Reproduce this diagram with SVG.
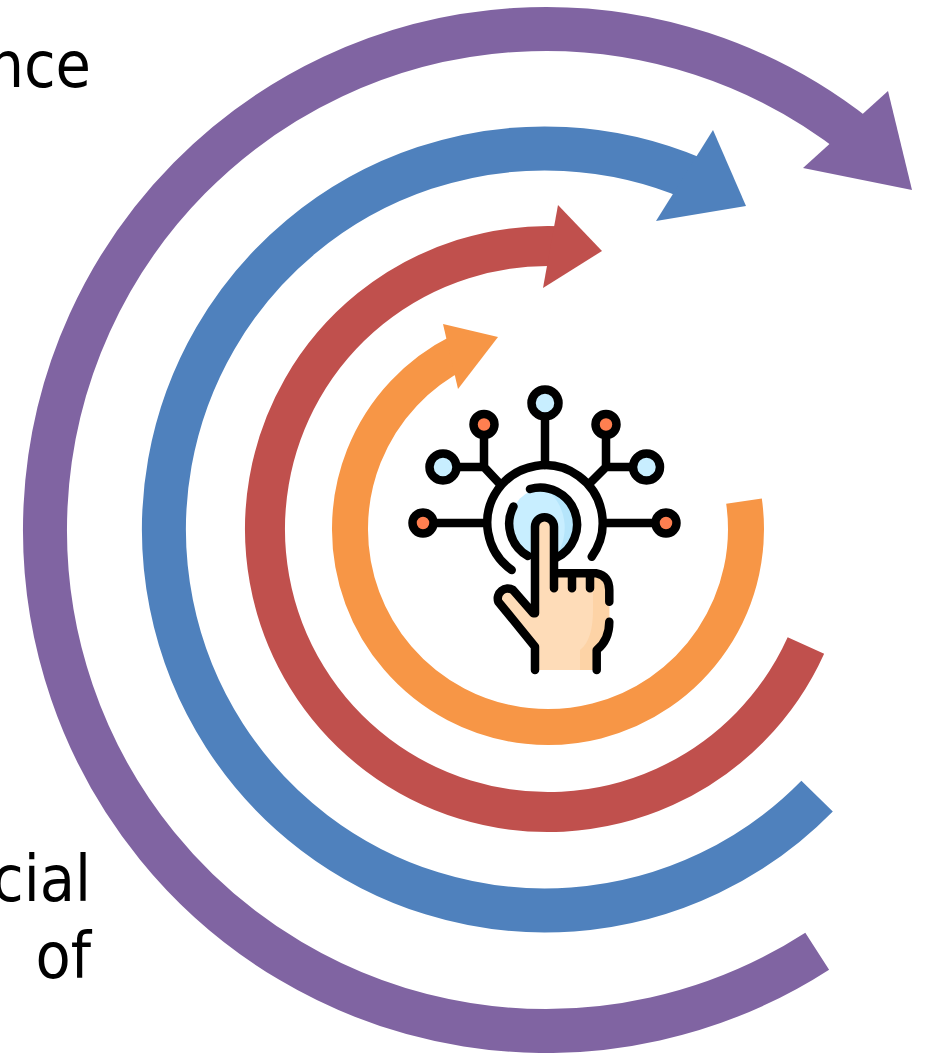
<svg xmlns="http://www.w3.org/2000/svg" width="933" height="1053" viewBox="0 0 933 1053">
<style>
.arc{fill:none}
.lb{font-family:"DejaVu Sans Condensed","DejaVu Sans",sans-serif;font-size:64px;fill:#000;text-anchor:end}
.k{fill:none;stroke:#000;stroke-width:8.5;stroke-linecap:round;stroke-linejoin:round}
.big{fill:#c8eeff}.or{fill:#ff7f50}
</style>
<rect width="933" height="1053" fill="#fff"/>
<g id="connectors">
<g id="arrow-purple"><path class="arc" stroke="#8064a2" stroke-width="44" d="M817.2 951.2A501 501 0 1 1 856.5 136.800"/><polygon fill="#8064a2" points="888,91 803,168 912,190"/></g>
<g id="arrow-blue"><path class="arc" stroke="#4f81bd" stroke-width="44" d="M817.1 796.1A381 381 0 1 1 693.900 178.800"/><polygon fill="#4f81bd" points="713,130 656,221 746,206"/></g>
<g id="arrow-red"><path class="arc" stroke="#c0504d" stroke-width="40" d="M805.900 645.500A283 283 0 1 1 560.300 246.300"/><polygon fill="#c0504d" points="558,205 543,288 602,251"/></g>
<g id="arrow-orange"><path class="arc" stroke="#f79646" stroke-width="36" d="M744 501.100A198 198 0 1 1 459.700 351.800"/><polygon fill="#f79646" points="443,324 458,389 498,337"/></g>
</g>
<g id="icon">
<circle class="big" cx="545" cy="523" r="35"/>
<path fill="#b5e5fb" d="M545 488A35 35 0 0 1 556 556A50 50 0 0 0 545 488Z"/>
<path fill="#fedcb8" d="M535 670V646.700L498.300 601.700A10 10 0 0 1 513 590L535 613.300V526.700A9.500 9.500 0 0 1 554 526.700V573.300H596.700Q609.300 576 609.300 590V621.700Q609.300 640 596.700 650V670Z"/>
<path fill="#fdd3a6" d="M593 578H609.300V621.700Q609.300 640 596.700 650V670H580V650Q593 640 593 610Z"/>
<path class="k" d="M545 417V465M484 435V467M456 467H484L499 483M606 435V467M634 467H606L590 483M437 523H483M607 523H653"/>
<circle class="k big" cx="545" cy="403" r="13.500"/>
<circle class="k big" cx="443" cy="467" r="13.500"/>
<circle class="k big" cx="646.500" cy="467" r="13.500"/>
<circle class="k or" cx="484" cy="424.500" r="10.500"/>
<circle class="k or" cx="606" cy="424.500" r="10.500"/>
<circle class="k or" cx="423" cy="523" r="10.500"/>
<circle class="k or" cx="666" cy="523" r="10.500"/>
<path class="k" d="M511.700 570A57.700 57.700 0 1 1 591.700 556.700M530 489A37 37 0 0 1 556 558M513.500 506.500A37 37 0 0 0 528 556"/>
<path class="k" d="M535 613.300V526.700A9.500 9.500 0 0 1 554 526.700V588.300M554 573.300H596.700Q609.300 576 609.300 590V601.700M609.300 621.700Q609.300 640 596.700 650V670M535 670V646.700L498.300 601.700A10 10 0 0 1 513 590L533.300 613.300M572 573.300V588.300M590 573.300V588.300"/>
</g>
<g id="labels">
<text class="lb" x="91" y="87">nce</text>
<text class="lb" x="91" y="901">cial</text>
<text class="lb" x="91" y="978">of</text>
</g>
</svg>
